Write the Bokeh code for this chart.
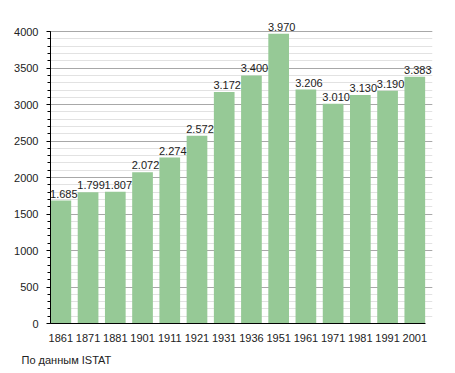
from bokeh.plotting import figure
from bokeh.models import Range1d, ColumnDataSource, FixedTicker, Title, LabelSet
from bokeh.core.properties import value
from bokeh.embed import file_html
from bokeh.resources import INLINE

years = ["1861", "1871", "1881", "1901", "1911", "1921", "1931", "1936",
         "1951", "1961", "1971", "1981", "1991", "2001"]
population = [1685, 1799, 1807, 2072, 2274, 2572, 3172, 3400,
              3970, 3206, 3010, 3130, 3190, 3383]
y_major_ticks = [0, 500, 1000, 1500, 2000, 2500, 3000, 3500, 4000]
y_minor_ticks = list(range(0, 4001, 100))
labels = [f"{v:,}".replace(",", ".") for v in population]
source_note = "По данным  ISTAT"

idx = list(range(len(years)))
src = ColumnDataSource(dict(x=idx, pop=population, label=labels))

FONT = "Liberation Sans"
BAR_W = 0.76

p = figure(width=440, height=373, output_backend="svg", toolbar_location=None,
           x_range=Range1d(-BAR_W / 2, len(years) - 1 + 0.65),
           y_range=Range1d(0, 4180),
           min_border_left=50, min_border_right=8, min_border_top=18, min_border_bottom=49)
p.outline_line_color = None
p.background_fill_color = "white"

p.vbar(x="x", top="pop", width=BAR_W, source=src, fill_color="#96c996", line_color=None)
lbls = LabelSet(x="x", y="pop", text="label", source=src, text_align="center",
                text_baseline="bottom", x_offset=3, y_offset=3, text_font_size="11px",
                text_color="#222222", text_font=value(FONT))
p.add_layout(lbls)

p.xgrid.grid_line_color = None
p.ygrid.grid_line_color = "#a8a8a8"
p.ygrid.minor_grid_line_color = "#e2e2e2"
p.ygrid.level = "underlay"

p.yaxis.ticker = FixedTicker(ticks=y_major_ticks, minor_ticks=y_minor_ticks)
p.yaxis.bounds = (0, 4000)
p.yaxis.axis_line_color = "black"
p.yaxis.major_tick_in = 0
p.yaxis.major_tick_out = 4
p.yaxis.minor_tick_in = 0
p.yaxis.minor_tick_out = 3
p.yaxis.major_label_standoff = 8
p.yaxis.major_label_text_font = FONT
p.yaxis.major_label_text_font_size = "11px"
p.yaxis.major_label_text_color = "#222222"

p.xaxis.ticker = FixedTicker(ticks=idx)
p.xaxis.major_label_overrides = {i: y for i, y in zip(idx, years)}
p.xaxis.bounds = (-BAR_W / 2, len(years) - 1 + BAR_W / 2)
p.xaxis.axis_line_color = "black"
p.xaxis.major_tick_line_color = None
p.xaxis.minor_tick_line_color = None
p.xaxis.major_label_standoff = 4
p.xaxis.major_label_text_font = FONT
p.xaxis.major_label_text_font_size = "11px"
p.xaxis.major_label_text_color = "#222222"

note = Title(text=source_note, align="left", offset=-29, text_font=FONT,
             text_font_size="11px", text_font_style="normal", text_color="#222222", standoff=15)
p.add_layout(note, "below")

open("out.html", "w").write(file_html(p, INLINE))
